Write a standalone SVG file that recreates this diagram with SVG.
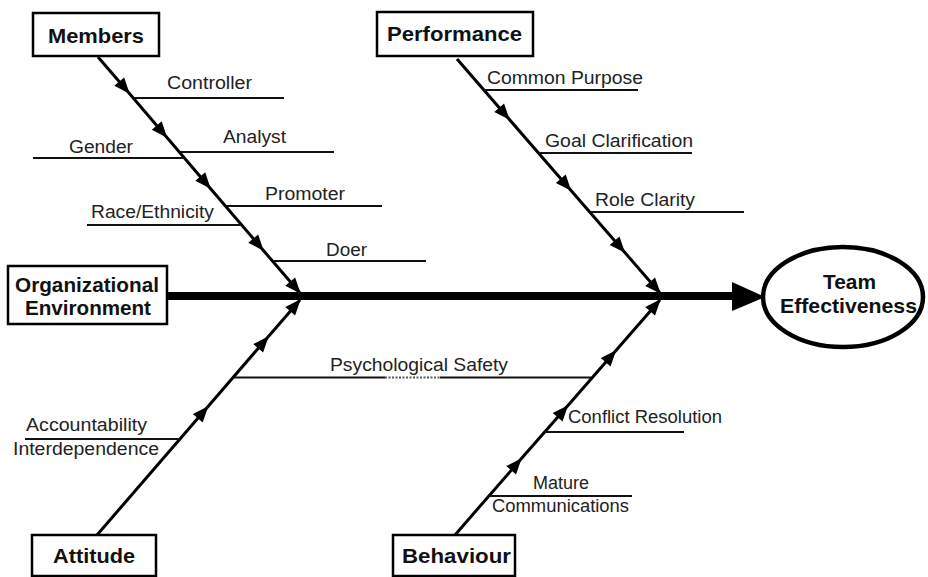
<svg xmlns="http://www.w3.org/2000/svg" width="928" height="577" viewBox="0 0 928 577">
  <style>
    .box { fill: #fff; stroke: #000; stroke-width: 2.5; }
    .btxt { font-family: "Liberation Sans", Arial, sans-serif; font-weight: bold; font-size: 21px; fill: #111; }
    .ltxt { font-family: "Liberation Sans", Arial, sans-serif; font-size: 17.5px; fill: #222; }
    .bone { fill: none; stroke: #000; stroke-width: 3; marker-mid: url(#ah); marker-end: url(#ah); }
    .hl { stroke: #111; stroke-width: 2; }
  </style>
  <defs>
    <marker id="ah" markerUnits="userSpaceOnUse" markerWidth="18" markerHeight="16" viewBox="-16 -8 18 16" refX="0" refY="0" orient="auto">
      <path d="M1,0 L-15,-6.5 L-15,6.5 Z" fill="#000"/>
    </marker>
  </defs>
  <rect width="928" height="577" fill="#fff"/>

  <g id="connectors">
    <line x1="168" y1="296" x2="736" y2="296" stroke="#000" stroke-width="8"/>
    <polygon points="732,282 765,297 732,311" fill="#000"/>
    <polyline class="bone" points="98,57 129,93 166.5,137 210,188 263,250 300,293"/>
    <polyline class="bone" points="457,59 509,119 570.6,190 624.4,252 660,293"/>
    <polyline class="bone" points="97,535 207.6,407 268,337 300,300"/>
    <polyline class="bone" points="455,535 521,459 567.5,406 615.5,351 660,300"/>
  </g>

  <g id="members">
    <rect class="box" x="33" y="13" width="126" height="43"/>
    <text class="btxt" x="48" y="43" textLength="96" lengthAdjust="spacingAndGlyphs">Members</text>
  </g>
  <g id="performance">
    <rect class="box" x="377" y="12" width="156" height="44"/>
    <text class="btxt" x="387" y="41" textLength="135" lengthAdjust="spacingAndGlyphs">Performance</text>
  </g>
  <g id="organizational-environment">
    <rect class="box" x="8" y="266" width="159" height="58"/>
    <text class="btxt" x="15" y="292" textLength="144" lengthAdjust="spacingAndGlyphs">Organizational</text>
    <text class="btxt" x="25" y="315" textLength="126" lengthAdjust="spacingAndGlyphs">Environment</text>
  </g>
  <g id="attitude">
    <rect class="box" x="32" y="535" width="124" height="41"/>
    <text class="btxt" x="53" y="563" textLength="82" lengthAdjust="spacingAndGlyphs">Attitude</text>
  </g>
  <g id="behaviour">
    <rect class="box" x="393" y="535" width="122" height="41"/>
    <text class="btxt" x="402" y="563" textLength="109" lengthAdjust="spacingAndGlyphs">Behaviour</text>
  </g>
  <g id="team-effectiveness">
    <ellipse cx="843" cy="297" rx="80" ry="50" fill="#fff" stroke="#000" stroke-width="4.5"/>
    <text class="btxt" x="849.5" y="289" text-anchor="middle" textLength="53" lengthAdjust="spacingAndGlyphs">Team</text>
    <text class="btxt" x="780" y="313" textLength="137" lengthAdjust="spacingAndGlyphs">Effectiveness</text>
  </g>

  <g id="controller">
    <line class="hl" x1="133" y1="98" x2="284" y2="98"/>
    <text class="ltxt" x="167" y="89" textLength="85" lengthAdjust="spacingAndGlyphs">Controller</text>
  </g>
  <g id="analyst">
    <line class="hl" x1="180" y1="152" x2="334" y2="152"/>
    <text class="ltxt" x="223" y="143" textLength="63" lengthAdjust="spacingAndGlyphs">Analyst</text>
  </g>
  <g id="gender">
    <line class="hl" x1="33" y1="158" x2="184" y2="158"/>
    <text class="ltxt" x="69" y="153" textLength="64" lengthAdjust="spacingAndGlyphs">Gender</text>
  </g>
  <g id="promoter">
    <line class="hl" x1="227" y1="206" x2="382" y2="206"/>
    <text class="ltxt" x="265" y="200" textLength="80" lengthAdjust="spacingAndGlyphs">Promoter</text>
  </g>
  <g id="race-ethnicity">
    <line class="hl" x1="87" y1="225" x2="241" y2="225"/>
    <text class="ltxt" x="91" y="218" textLength="123" lengthAdjust="spacingAndGlyphs">Race/Ethnicity</text>
  </g>
  <g id="doer">
    <line class="hl" x1="274" y1="261" x2="426" y2="261"/>
    <text class="ltxt" x="326" y="256" textLength="41" lengthAdjust="spacingAndGlyphs">Doer</text>
  </g>
  <g id="common-purpose">
    <line class="hl" x1="484" y1="90" x2="638" y2="90"/>
    <text class="ltxt" x="487" y="84" textLength="156" lengthAdjust="spacingAndGlyphs">Common Purpose</text>
  </g>
  <g id="goal-clarification">
    <line class="hl" x1="539" y1="153" x2="692" y2="153"/>
    <text class="ltxt" x="545" y="147" textLength="148" lengthAdjust="spacingAndGlyphs">Goal Clarification</text>
  </g>
  <g id="role-clarity">
    <line class="hl" x1="590" y1="212" x2="744" y2="212"/>
    <text class="ltxt" x="595" y="206" textLength="100" lengthAdjust="spacingAndGlyphs">Role Clarity</text>
  </g>
  <g id="psychological-safety">
    <line class="hl" x1="234" y1="377.5" x2="385" y2="377.5"/>
    <line x1="385" y1="377.5" x2="440" y2="377.5" stroke="#555" stroke-width="2" stroke-dasharray="2 1.5"/>
    <line class="hl" x1="440" y1="377.5" x2="591" y2="377.5"/>
    <text class="ltxt" x="330" y="371" textLength="178" lengthAdjust="spacingAndGlyphs">Psychological Safety</text>
  </g>
  <g id="accountability-interdependence">
    <line class="hl" x1="25" y1="439" x2="180" y2="439"/>
    <text class="ltxt" x="26" y="431" textLength="121" lengthAdjust="spacingAndGlyphs">Accountability</text>
    <text class="ltxt" x="13" y="455" textLength="146" lengthAdjust="spacingAndGlyphs">Interdependence</text>
  </g>
  <g id="conflict-resolution">
    <line class="hl" x1="544" y1="432" x2="684" y2="432"/>
    <text class="ltxt" x="568" y="423" textLength="154" lengthAdjust="spacingAndGlyphs">Conflict Resolution</text>
  </g>
  <g id="mature-communications">
    <line class="hl" x1="489" y1="496" x2="632" y2="496"/>
    <text class="ltxt" x="533" y="489" textLength="56" lengthAdjust="spacingAndGlyphs">Mature</text>
    <text class="ltxt" x="492" y="512" textLength="137" lengthAdjust="spacingAndGlyphs">Communications</text>
  </g>
</svg>
